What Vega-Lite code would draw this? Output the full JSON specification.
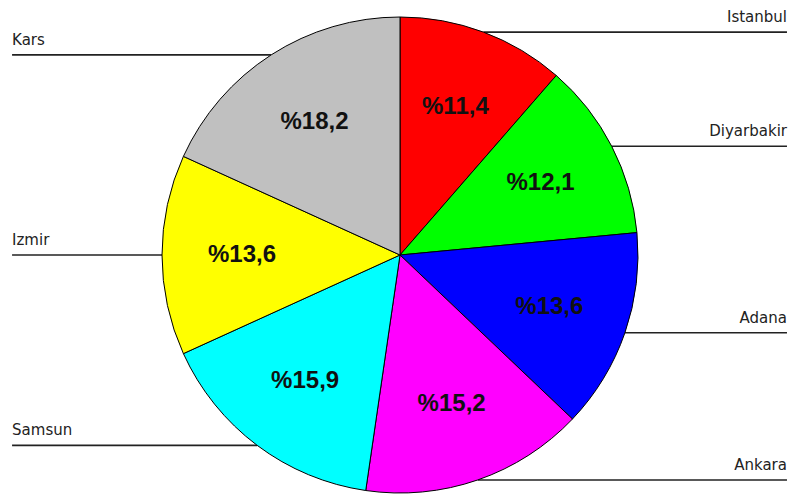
{
  "$schema": "https://vega.github.io/schema/vega-lite/v6.json",
  "width": 780,
  "height": 478,
  "autosize": {"type": "none"},
  "padding": {"left": 10, "top": 16, "right": 0, "bottom": 0},
  "background": "white",
  "config": {"view": {"stroke": null}},
  "data": {
    "values": [
      {"city": "Istanbul", "share": 11.4, "order": 1},
      {"city": "Diyarbakir", "share": 12.1, "order": 2},
      {"city": "Adana", "share": 13.6, "order": 3},
      {"city": "Ankara", "share": 15.2, "order": 4},
      {"city": "Samsun", "share": 15.9, "order": 5},
      {"city": "Izmir", "share": 13.6, "order": 6},
      {"city": "Kars", "share": 18.2, "order": 7}
    ]
  },
  "transform": [
    {"window": [{"op": "sum", "field": "share", "as": "cum"}], "sort": [{"field": "order"}], "frame": [null, 0]},
    {"calculate": "(datum.cum - datum.share / 2) / 100 * 2 * PI", "as": "mid"},
    {"calculate": "sin(datum.mid)", "as": "ex"},
    {"calculate": "cos(datum.mid)", "as": "ey"},
    {"calculate": "'%' + replace(format(datum.share, '.1f'), '.', ',')", "as": "pct"}
  ],
  "layer": [
    {
      "mark": {"type": "rule", "color": "#222222", "strokeWidth": 1.6},
      "transform": [{"filter": "datum.ex > 0"}],
      "encoding": {
        "x": {"field": "ex", "type": "quantitative", "scale": {"domain": [-1.6387, 1.6387], "nice": false, "zero": false}, "axis": null},
        "x2": {"datum": 1.626},
        "y": {"field": "ey", "type": "quantitative", "scale": {"domain": [-1.0042, 1.0042], "nice": false, "zero": false}, "axis": null}
      }
    },
    {
      "mark": {"type": "rule", "color": "#222222", "strokeWidth": 1.6},
      "transform": [{"filter": "datum.ex <= 0"}],
      "encoding": {
        "x": {"field": "ex", "type": "quantitative"},
        "x2": {"datum": -1.63},
        "y": {"field": "ey", "type": "quantitative"}
      }
    },
    {
      "mark": {"type": "text", "align": "right", "baseline": "alphabetic", "dy": -10, "font": "DejaVu Sans", "fontSize": 15, "color": "#222222"},
      "transform": [{"filter": "datum.ex > 0"}],
      "encoding": {
        "x": {"datum": 1.626, "type": "quantitative"},
        "y": {"field": "ey", "type": "quantitative"},
        "text": {"field": "city"}
      }
    },
    {
      "mark": {"type": "text", "align": "left", "baseline": "alphabetic", "dy": -10, "font": "DejaVu Sans", "fontSize": 15, "color": "#222222"},
      "transform": [{"filter": "datum.ex <= 0"}],
      "encoding": {
        "x": {"datum": -1.63, "type": "quantitative"},
        "y": {"field": "ey", "type": "quantitative"},
        "text": {"field": "city"}
      }
    },
    {
      "mark": {"type": "arc", "outerRadius": 238, "stroke": "#000000", "strokeWidth": 1},
      "encoding": {
        "theta": {"field": "share", "type": "quantitative", "stack": true},
        "order": {"field": "order", "type": "quantitative"},
        "color": {
          "field": "city",
          "type": "nominal",
          "scale": {
            "domain": ["Istanbul", "Diyarbakir", "Adana", "Ankara", "Samsun", "Izmir", "Kars"],
            "range": ["#ff0000", "#00ff00", "#0000ff", "#ff00ff", "#00ffff", "#ffff00", "#c0c0c0"]
          },
          "legend": null
        }
      }
    },
    {
      "mark": {"type": "text", "radius": 158, "font": "Liberation Sans", "fontWeight": "bold", "fontSize": 24, "color": "#111111", "baseline": "middle", "align": "center"},
      "encoding": {
        "theta": {"field": "share", "type": "quantitative", "stack": true},
        "order": {"field": "order", "type": "quantitative"},
        "text": {"field": "pct"}
      }
    }
  ]
}
